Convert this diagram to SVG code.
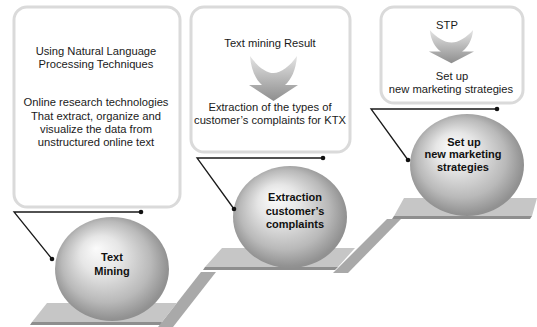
<svg xmlns="http://www.w3.org/2000/svg" width="537" height="327" viewBox="0 0 537 327">
  <style>
    .box { fill: #ffffff; stroke: #dadada; stroke-width: 3; }
    .txt { font-family: "Liberation Sans", Arial, sans-serif; font-size: 11.2px; fill: #1a1a1a; text-anchor: middle; }
    .lbl { font-family: "Liberation Sans", Arial, sans-serif; font-size: 11px; font-weight: bold; fill: #111111; text-anchor: middle; }
    .plat { fill: #c6c6c6; }
    .edge { fill: #8e8e8e; }
    .ramp { fill: #a9a9a9; }
    .ball { fill: url(#ballGrad); }
    .conn { fill: none; stroke: #1a1a1a; stroke-width: 1.3; }
    .dot { fill: #111111; }
    .arrow { fill: url(#arrowGrad); }
  </style>
  <defs>
    <radialGradient id="ballGrad" cx="0.5" cy="0.5" r="0.6" fx="0.36" fy="0.3">
      <stop offset="0" stop-color="#fbfbfb"/>
      <stop offset="0.3" stop-color="#e6e6e6"/>
      <stop offset="0.65" stop-color="#b9b9b9"/>
      <stop offset="0.85" stop-color="#929292"/>
      <stop offset="1" stop-color="#858585"/>
    </radialGradient>
    <linearGradient id="arrowGrad" x1="0" y1="0" x2="0" y2="1">
      <stop offset="0" stop-color="#e4e4e4"/>
      <stop offset="0.55" stop-color="#b4b4b4"/>
      <stop offset="1" stop-color="#8e8e8e"/>
    </linearGradient>
    <!-- converging down arrow, 51 x 45 local units -->
    <path id="funnel" d="M2,0 C3,14 8,24 14,29 L1,29 L25.5,45 L50,29 L37,29 C43,24 48,14 49,0 C42,10 33,17 25.5,17 C18,17 9,10 2,0 Z"/>
  </defs>

  <!-- steps: platforms and ramps -->
  <g id="steps">
    <polygon class="ramp" points="158,327 201,272 216,272 173,327"/>
    <polygon class="ramp" points="333,273 387,219 401,219 348,273"/>
    <polygon class="plat" points="47,303 177,303 162,322 32,322"/>
    <polygon class="edge" points="32,322 162,322 160,325 30,325"/>
    <polygon class="plat" points="222,248 355,248 338,267 205,267"/>
    <polygon class="edge" points="205,267 338,267 335,270 203,270"/>
    <polygon class="plat" points="404,198 537,198 532,216 394,216"/>
    <polygon class="edge" points="394,216 532,216 530,219 392,219"/>
  </g>

  <!-- text boxes -->
  <g id="box-nlp">
    <rect class="box" x="14" y="7" width="166" height="200" rx="13"/>
    <text class="txt" x="96" y="55">Using Natural Language</text>
    <text class="txt" x="96" y="68">Processing Techniques</text>
    <text class="txt" x="96" y="106">Online research technologies</text>
    <text class="txt" x="96" y="120">That extract, organize and</text>
    <text class="txt" x="96" y="133">visualize the data from</text>
    <text class="txt" x="96" y="146">unstructured online text</text>
  </g>
  <g id="box-result">
    <rect class="box" x="191" y="7" width="159" height="145" rx="13"/>
    <text class="txt" x="270" y="47">Text mining Result</text>
    <use href="#funnel" class="arrow" transform="translate(248,56)"/>
    <text class="txt" x="270" y="111">Extraction of the types of</text>
    <text class="txt" x="270" y="124">customer’s complaints for KTX</text>
  </g>
  <g id="box-stp">
    <rect class="box" x="381" y="7" width="142" height="96" rx="13"/>
    <text class="txt" x="447" y="29">STP</text>
    <use href="#funnel" class="arrow" transform="translate(428,30) scale(0.92,0.74)"/>
    <text class="txt" x="452" y="80">Set up</text>
    <text class="txt" x="451" y="93">new marketing strategies</text>
  </g>

  <!-- spheres -->
  <g id="ball-mining">
    <ellipse class="ball" cx="112" cy="269" rx="57" ry="52"/>
    <text class="lbl" x="112" y="261">Text</text>
    <text class="lbl" x="112" y="275">Mining</text>
  </g>
  <g id="ball-complaints">
    <ellipse class="ball" cx="290" cy="217" rx="57" ry="51"/>
    <text class="lbl" x="295" y="201">Extraction</text>
    <text class="lbl" x="295" y="215">customer’s</text>
    <text class="lbl" x="295" y="228">complaints</text>
  </g>
  <g id="ball-strategies">
    <ellipse class="ball" cx="467" cy="165" rx="57" ry="51"/>
    <text class="lbl" x="464" y="146">Set up</text>
    <text class="lbl" x="463" y="158">new marketing</text>
    <text class="lbl" x="463" y="171">strategies</text>
  </g>

  <!-- connectors from boxes to spheres -->
  <g id="connectors">
    <polyline class="conn" points="141,212 14,212 52,259"/>
    <circle class="dot" cx="141" cy="212" r="2.3"/>
    <circle class="dot" cx="52" cy="259" r="2.3"/>
    <polyline class="conn" points="323,158 197,158 234,209"/>
    <circle class="dot" cx="323" cy="158" r="2.3"/>
    <circle class="dot" cx="234" cy="209" r="2.3"/>
    <polyline class="conn" points="497,109 371,109 408,160"/>
    <circle class="dot" cx="497" cy="109" r="2.3"/>
    <circle class="dot" cx="408" cy="160" r="2.3"/>
  </g>
</svg>
